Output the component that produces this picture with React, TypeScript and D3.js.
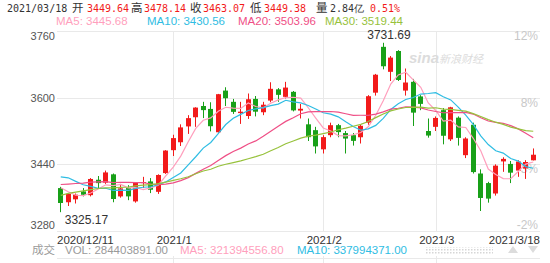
import React from 'react';
import * as d3 from 'd3';

// closes before the visible window (for the moving averages)
const priorCloses = [
  3225.12, 3271.07, 3277.44, 3320.13, 3312.16, 3373.73, 3360.15, 3342.2, 3338.68, 3310.1,
  3346.97, 3339.9, 3347.3, 3363.09, 3377.73, 3414.49, 3402.82, 3362.33, 3369.73, 3408.31,
  3391.76, 3451.94, 3449.38, 3442.14, 3444.58, 3416.6, 3410.18, 3371.96, 3373.28,
];

const dates = [
  '2020-12-11', '2020-12-14', '2020-12-15', '2020-12-16', '2020-12-17', '2020-12-18',
  '2020-12-21', '2020-12-22', '2020-12-23', '2020-12-24', '2020-12-25', '2020-12-28',
  '2020-12-29', '2020-12-30', '2020-12-31', '2021-01-04', '2021-01-05', '2021-01-06',
  '2021-01-07', '2021-01-08', '2021-01-11', '2021-01-12', '2021-01-13', '2021-01-14',
  '2021-01-15', '2021-01-18', '2021-01-19', '2021-01-20', '2021-01-21', '2021-01-22',
  '2021-01-25', '2021-01-26', '2021-01-27', '2021-01-28', '2021-01-29', '2021-02-01',
  '2021-02-02', '2021-02-03', '2021-02-04', '2021-02-05', '2021-02-08', '2021-02-09',
  '2021-02-10', '2021-02-18', '2021-02-19', '2021-02-22', '2021-02-23', '2021-02-24',
  '2021-02-25', '2021-02-26', '2021-03-01', '2021-03-02', '2021-03-03', '2021-03-04',
  '2021-03-05', '2021-03-08', '2021-03-09', '2021-03-10', '2021-03-11', '2021-03-12',
  '2021-03-15', '2021-03-16', '2021-03-17', '2021-03-18',
];

const opens = [
  3383, 3349, 3356, 3375, 3366, 3403, 3396, 3416, 3363, 3383, 3351, 3395, 3399, 3374, 3419,
  3474, 3493, 3531, 3553, 3580, 3573, 3517, 3617, 3590, 3563, 3556, 3597, 3565, 3593, 3620,
  3602, 3614, 3569, 3536, 3522, 3476, 3510, 3534, 3515, 3510, 3505, 3540, 3612, 3722, 3662,
  3712, 3617, 3638, 3603, 3520, 3530, 3570, 3500, 3552, 3462, 3535, 3418, 3395, 3370, 3447,
  3441, 3425, 3430, 3449.64,
];
const highs = [
  3386, 3370, 3370, 3383, 3407, 3412, 3425, 3418, 3393, 3390, 3397, 3410, 3407, 3416, 3474,
  3511, 3536, 3558, 3577, 3590, 3589, 3609, 3625, 3597, 3590, 3610, 3604, 3590, 3637, 3623,
  3638, 3616, 3585, 3550, 3530, 3510, 3540, 3537, 3520, 3515, 3535, 3606, 3657, 3731.69, 3700,
  3714, 3670, 3645, 3606, 3550, 3555, 3575, 3578, 3555, 3505, 3540, 3428, 3398, 3440, 3457,
  3448, 3450, 3450, 3478.14,
];
const lows = [
  3325.17, 3340, 3346, 3363, 3363, 3383, 3393, 3349, 3360, 3354, 3348, 3383, 3371, 3369, 3417,
  3460, 3484, 3513, 3530, 3551, 3519, 3516, 3580, 3561, 3537, 3549, 3555, 3558, 3589, 3590,
  3598, 3567, 3550, 3496, 3466, 3466, 3505, 3505, 3466, 3485, 3490, 3535, 3605, 3668, 3640,
  3640, 3605, 3532, 3570, 3504, 3520, 3488, 3496, 3485, 3455, 3418, 3328, 3348, 3365, 3422,
  3395, 3410, 3405, 3449.38,
];
const closes = [
  3347.19, 3369.12, 3367.23, 3366.98, 3404.87, 3394.9, 3420.57, 3356.78, 3382.32, 3363.11,
  3396.56, 3397.29, 3379.04, 3414.45, 3473.07, 3502.96, 3528.68, 3550.88, 3576.2, 3570.11,
  3531.5, 3608.34, 3598.65, 3565.9, 3566.38, 3596.22, 3566.34, 3583.09, 3621.26, 3606.75,
  3624.24, 3569.43, 3573.34, 3505.18, 3483.07, 3505.28, 3533.93, 3517.31, 3501.86, 3496.33,
  3532.44, 3603.49, 3655.09, 3675.36, 3696.17, 3642.44, 3636.36, 3564.08, 3585.05, 3509.08,
  3551.4, 3508.59, 3576.9, 3503.49, 3501.99, 3421.41, 3359.29, 3357.74, 3436.83, 3453.08,
  3419.95, 3446.73, 3445.55, 3463.07,
];

const priceTicks = [3760, 3600, 3440, 3280];
const pctLabels = ['12%', '8%', '3%', '-2%'];
const monthTickDates = ['2021-01-04', '2021-02-01', '2021-03-01'];
const monthLabels = ['2021/1', '2021/2', '2021/3'];
const maPeriods = [5, 10, 20, 30];
const maNames = ['MA5', 'MA10', 'MA20', 'MA30'];
const maColors = ['#ff9fbd', '#2fbde3', '#ef4f86', '#97c23c'];
const headerMAValues = ['3445.68', '3430.56', '3503.96', '3519.44'];
const headerQuote = ['2021/03/18', '3449.64', '3478.14', '3463.07', '3449.38', '2.84亿', '0.51%'];
const volLabels = ['284403891.00', '321394556.80', '337994371.00'];

const W = 550;
const H = 263;
const UP = '#f21a1a';
const DOWN = '#18a018';
const SANS = '"Liberation Sans", Arial, sans-serif';
const MONO = '"DejaVu Sans Mono", monospace';
const CJK = '"Noto Sans CJK SC", sans-serif';

export default function App() {
  const x = d3.scaleBand<string>().domain(dates).range([57, 537]).padding(0);
  const bw = x.bandwidth();
  const cx = (d: string) => (x(d) as number) + bw / 2;
  const y = d3.scaleLinear().domain([3280, 3760]).range([231, 31]);

  const all = priorCloses.concat(closes);
  const off = priorCloses.length;
  const maSeries = maPeriods.map((n) =>
    dates.map((_, i) => d3.mean(all.slice(i + off - n + 1, i + off + 1)) as number)
  );
  const line = d3
    .line<number>()
    .x((_, i) => cx(dates[i]))
    .y((v) => y(v));

  const hiIdx = d3.maxIndex(highs);
  const loIdx = d3.minIndex(lows);

  const plotL = 57;
  const plotR = 540;

  return (
    <svg
      width={W}
      height={H}
      style={{ position: 'fixed', left: 0, top: 0, background: '#fff' }}
    >
      <rect x={0} y={0} width={W} height={H} fill="#fff" />
      {/* header line 1 */}
      <g fontSize={10} fontFamily={MONO}>
        <text x={7} y={12} fill="#333">{headerQuote[0]}</text>
        <text x={72} y={12} fill="#333" fontFamily={CJK} fontSize={11.5}>开</text>
        <text x={87} y={12} fill={UP}>{headerQuote[1]}</text>
        <text x={131} y={12} fill="#333" fontFamily={CJK} fontSize={11.5}>高</text>
        <text x={144} y={12} fill={UP}>{headerQuote[2]}</text>
        <text x={190} y={12} fill="#333" fontFamily={CJK} fontSize={11.5}>收</text>
        <text x={203} y={12} fill={UP}>{headerQuote[3]}</text>
        <text x={250} y={12} fill="#333" fontFamily={CJK} fontSize={11.5}>低</text>
        <text x={264} y={12} fill={UP}>{headerQuote[4]}</text>
        <text x={316} y={12} fill="#333" fontFamily={CJK} fontSize={11.5}>量</text>
        <text x={330} y={12} fill="#333">{headerQuote[5]}</text>
        <text x={370} y={12} fill={UP}>{headerQuote[6]}</text>
      </g>
      {/* header line 2: MA legend */}
      <g fontSize={11.5} fontFamily={SANS}>
        {[56, 147, 238, 325].map((lx, k) => (
          <text key={k} x={lx} y={25} fill={maColors[k]}>
            {maNames[k]}: {headerMAValues[k]}
          </text>
        ))}
      </g>

      {/* grid */}
      <g stroke="#e9e9e9" strokeWidth={1}>
        {priceTicks.map((t) => (
          <line key={t} x1={plotL} x2={plotR} y1={Math.round(y(t)) + 0.5} y2={Math.round(y(t)) + 0.5} />
        ))}
        {monthTickDates.map((d) => (
          <line key={d} x1={Math.round(cx(d)) + 0.5} x2={Math.round(cx(d)) + 0.5} y1={31} y2={231} />
        ))}
        {monthTickDates.map((d) => (
          <line key={'v' + d} x1={Math.round(cx(d)) + 0.5} x2={Math.round(cx(d)) + 0.5} y1={256} y2={H} />
        ))}
        <line x1={plotL} x2={plotR} y1={258.5} y2={258.5} />
      </g>

      {/* watermark */}
      <g fill="#dcdcdc" fontStyle="italic">
        <text x={409} y={63} fontFamily={SANS} fontSize={15} fontWeight="bold">sina</text>
        <text x={439} y={63} fontFamily={CJK} fontSize={11}>新浪财经</text>
      </g>

      {/* left axis labels */}
      <g fontSize={11} fontFamily={SANS} fill="#555" textAnchor="end">
        {priceTicks.map((t, k) => {
          const yy = y(t);
          const dy = k === 0 ? 9 : k === priceTicks.length - 1 ? -2 : 4;
          return (
            <text key={t} x={55} y={yy + dy}>{t}</text>
          );
        })}
      </g>
      {/* right percent labels */}
      <g fontSize={12} fontFamily={SANS} fill="#c8c8c8" textAnchor="end">
        {priceTicks.map((t, k) => {
          const yy = y(t);
          const dy = k === priceTicks.length - 1 ? -2 : 9;
          return (
            <text key={t} x={538} y={yy + dy}>{pctLabels[k]}</text>
          );
        })}
      </g>

      {/* candles */}
      <g>
        {dates.map((d, i) => {
          const o = opens[i];
          const c = closes[i];
          const up = c >= o;
          const col = up ? UP : DOWN;
          const left = Math.round((x(d) as number) + 1.25);
          const wx = left + 2.5;
          const top = y(Math.max(o, c));
          const bot = y(Math.min(o, c));
          return (
            <g key={d}>
              <line x1={wx} x2={wx} y1={y(highs[i])} y2={y(lows[i])} stroke={col} strokeWidth={1} />
              <rect x={left} y={top} width={5} height={Math.max(1, bot - top)} fill={col} />
            </g>
          );
        })}
      </g>

      {/* moving averages */}
      <g fill="none" strokeWidth={1.2}>
        {maSeries.map((s, k) => (
          <path key={k} d={line(s) as string} stroke={maColors[k]} />
        ))}
      </g>

      {/* high / low marks */}
      <g fontSize={12} fontFamily={SANS} fill="#333">
        <text x={cx(dates[hiIdx]) - 16} y={39}>{highs[hiIdx].toFixed(2)}</text>
        <text x={cx(dates[loIdx]) + 4} y={224}>{lows[loIdx].toFixed(2)}</text>
      </g>

      {/* date axis */}
      <g fontSize={11.5} fontFamily={SANS} fill="#333">
        <text x={57} y={243.5}>2020/12/11</text>
        {monthTickDates.map((d, k) => (
          <text key={d} x={cx(d) + 1} y={243.5} textAnchor="middle">{monthLabels[k]}</text>
        ))}
        <text x={540} y={243.5} textAnchor="end">2021/3/18</text>
      </g>

      {/* volume legend */}
      <g fontSize={11.5} fontFamily={SANS}>
        <text x={32} y={254} fill="#9a9a9a" fontFamily={CJK}>成交</text>
        <text x={65} y={254} fill="#9a9a9a">VOL: {volLabels[0]}</text>
        <text x={180} y={254} fill={maColors[0]}>MA5: {volLabels[1]}</text>
        <text x={297} y={254} fill={maColors[1]}>MA10: {volLabels[2]}</text>
      </g>

      {/* scroller */}
      <defs>
        <pattern id="dots" width={3} height={3} patternUnits="userSpaceOnUse">
          <rect x={0} y={0} width={1.5} height={1.5} fill="#d6d6d6" />
        </pattern>
      </defs>
      <rect x={425} y={247} width={68} height={7} fill="url(#dots)" />
      <path d="M508,253 L513,246 L518,253 Z" fill="#dcdcdc" />
      <path d="M528,246 L538,246 L533,253 Z" fill="#dcdcdc" />
    </svg>
  );
}
